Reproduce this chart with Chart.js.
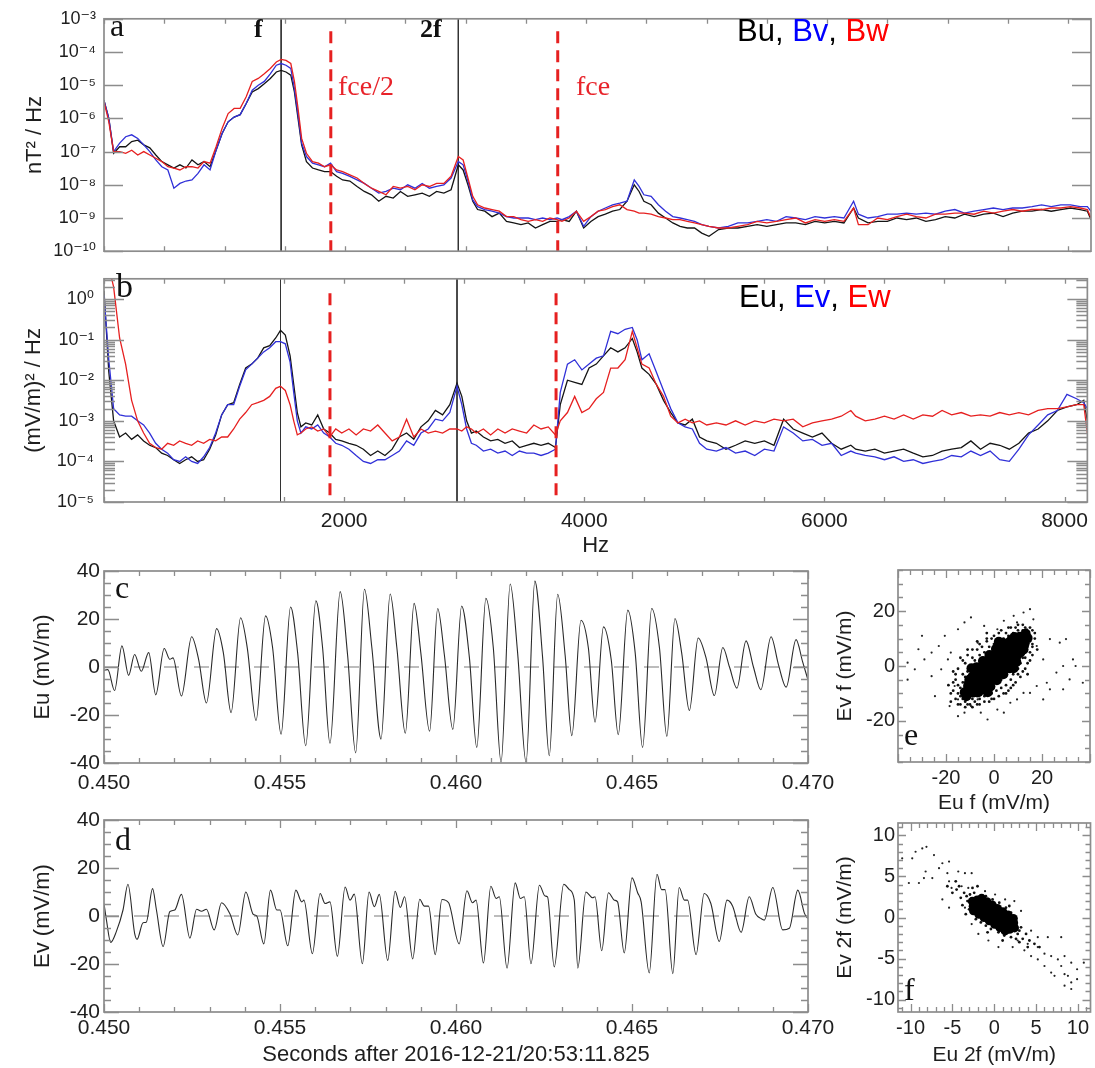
<!DOCTYPE html>
<html lang="en">
<head>
<meta charset="UTF-8">
<title>Spectra, waveforms and hodograms</title>
<script src="https://cdn.jsdelivr.net/npm/chart.js"></script>
<style>
  body { margin: 0; background: #fff; }
  #page { position: relative; width: 1095px; height: 1068px; overflow: hidden; }
  #page canvas { position: absolute; }
</style>
</head>
<body>
<div id="page">
  <canvas id="panelA" width="1095" height="270" style="left:0;top:0"></canvas>
  <canvas id="panelB" width="1095" height="302" style="left:0;top:258px"></canvas>
  <canvas id="panelC" width="845" height="248" style="left:0;top:552px"></canvas>
  <canvas id="panelD" width="845" height="268" style="left:0;top:800px"></canvas>
  <canvas id="panelE" width="265" height="266" style="left:830px;top:550px"></canvas>
  <canvas id="panelF" width="265" height="260" style="left:830px;top:808px"></canvas>
</div>
<script>
// ---------- spectra (panels a, b) ----------
const freqHz = [
  0, 40, 80, 130, 180, 230, 280, 330, 380, 430,
  480, 530, 580, 630, 680, 730, 780, 830, 880, 930,
  980, 1030, 1080, 1130, 1180, 1230, 1280, 1330, 1380, 1430,
  1470, 1510, 1550, 1580, 1610, 1640, 1680, 1730, 1780, 1830,
  1880, 1930, 1980, 2040, 2100, 2160, 2220, 2280, 2340, 2400,
  2460, 2520, 2580, 2640, 2700, 2760, 2820, 2880, 2940, 2980,
  3020, 3060, 3100, 3160, 3220, 3280, 3340, 3400, 3460, 3520,
  3580, 3640, 3700, 3760, 3800, 3860, 3920, 3980, 4040, 4100,
  4160, 4220, 4280, 4340, 4400, 4440, 4480, 4540, 4600, 4660,
  4720, 4780, 4840, 4900, 4960, 5020, 5100, 5180, 5260, 5340,
  5420, 5500, 5580, 5660, 5740, 5820, 5900, 5980, 6060, 6140,
  6220, 6260, 6340, 6420, 6500, 6580, 6660, 6740, 6820, 6900,
  6980, 7060, 7140, 7220, 7300, 7380, 7460, 7540, 7620, 7700,
  7780, 7860, 7940, 8020, 8100, 8160, 8190
];

// magnetic PSD, nT^2/Hz
const bu = [
  3.5e-6, 1e-6, 8.9e-8, 1.4e-7, 1.4e-7, 2.0e-7, 2.2e-7, 1.6e-7, 1.3e-7, 7.9e-8,
  5.0e-8, 4.0e-8, 3.2e-8, 4.0e-8, 3.2e-8, 5.6e-8, 4.0e-8, 5.0e-8, 3.5e-8, 1.1e-7,
  3.5e-7, 7.9e-7, 1.1e-6, 1.3e-6, 2.8e-6, 6.3e-6, 7.9e-6, 1.1e-5, 1.6e-5, 2.5e-5,
  2.8e-5, 2.5e-5, 2.0e-5, 6.3e-6, 1e-6, 1.6e-7, 5.0e-8, 3.2e-8, 2.8e-8, 2.5e-8,
  2.5e-8, 1.8e-8, 1.4e-8, 1.3e-8, 8.9e-9, 6.3e-9, 5.0e-9, 3.2e-9, 4.5e-9, 4.0e-9,
  6.3e-9, 4.5e-9, 5.0e-9, 5.6e-9, 4.5e-9, 6.3e-9, 5.6e-9, 7.1e-9, 4.0e-8, 2.8e-8,
  1e-8, 3.2e-9, 1.8e-9, 1.6e-9, 1.1e-9, 1.4e-9, 7.9e-10, 7.1e-10, 6.3e-10, 7.1e-10,
  5.0e-10, 6.3e-10, 7.9e-10, 7.9e-10, 8.9e-10, 7.9e-10, 1.6e-9, 5.0e-10, 7.9e-10, 1.1e-9,
  1.3e-9, 1.6e-9, 1.8e-9, 3.2e-9, 1e-8, 6.3e-9, 3.2e-9, 2.5e-9, 1.4e-9, 1e-9,
  7.1e-10, 5.6e-10, 5.0e-10, 5.0e-10, 3.5e-10, 2.8e-10, 4.5e-10, 5.0e-10, 5.0e-10, 5.6e-10,
  6.3e-10, 5.6e-10, 6.3e-10, 7.1e-10, 7.1e-10, 6.3e-10, 7.9e-10, 7.1e-10, 7.9e-10, 7.1e-10,
  2.0e-9, 1e-9, 7.1e-10, 7.9e-10, 7.9e-10, 1e-9, 8.9e-10, 1e-9, 7.9e-10, 8.9e-10,
  1.1e-9, 1e-9, 1.3e-9, 1.1e-9, 1.3e-9, 1.4e-9, 1.1e-9, 1.4e-9, 1.6e-9, 1.6e-9,
  1.8e-9, 1.6e-9, 1.8e-9, 2.0e-9, 1.8e-9, 1.6e-9, 8.9e-10
];
const bv = [
  3.5e-6, 1e-6, 1e-7, 1.8e-7, 2.8e-7, 3.2e-7, 2.5e-7, 1.6e-7, 1e-7, 5.6e-8,
  3.5e-8, 2.8e-8, 7.9e-9, 1.1e-8, 1.3e-8, 1.4e-8, 2.2e-8, 4.0e-8, 2.8e-8, 1.1e-7,
  3.5e-7, 7.9e-7, 1.1e-6, 1.3e-6, 2.8e-6, 7.1e-6, 1e-5, 1.3e-5, 2.2e-5, 4.0e-5,
  4.5e-5, 4.0e-5, 3.2e-5, 7.9e-6, 1.3e-6, 1.8e-7, 7.1e-8, 4.5e-8, 4.0e-8, 3.5e-8,
  4.5e-8, 2.5e-8, 2.2e-8, 1.8e-8, 1.4e-8, 1.1e-8, 7.9e-9, 5.6e-9, 6.3e-9, 7.9e-9,
  7.1e-9, 1e-8, 7.9e-9, 1.1e-8, 7.9e-9, 8.9e-9, 1e-8, 1.6e-8, 5.0e-8, 4.0e-8,
  1.3e-8, 3.5e-9, 2.2e-9, 1.8e-9, 1.6e-9, 1.4e-9, 1.1e-9, 1e-9, 1e-9, 1e-9,
  8.9e-10, 1e-9, 8.9e-10, 1e-9, 8.9e-10, 1.1e-9, 1.6e-9, 5.6e-10, 1.1e-9, 1.6e-9,
  2.0e-9, 2.5e-9, 2.8e-9, 3.2e-9, 1.4e-8, 8.9e-9, 5.0e-9, 4.5e-9, 2.5e-9, 1.6e-9,
  1.1e-9, 1e-9, 8.9e-10, 7.9e-10, 6.3e-10, 5.6e-10, 5.0e-10, 5.6e-10, 7.1e-10, 7.1e-10,
  7.9e-10, 8.9e-10, 7.9e-10, 1.1e-9, 1e-9, 8.9e-10, 1.1e-9, 1e-9, 1.1e-9, 1e-9,
  3.2e-9, 1.3e-9, 1e-9, 1.1e-9, 1.3e-9, 1.3e-9, 1.4e-9, 1.3e-9, 1.4e-9, 1.3e-9,
  1.6e-9, 1.8e-9, 1.4e-9, 1.6e-9, 1.8e-9, 2.0e-9, 1.8e-9, 2.0e-9, 2.0e-9, 2.2e-9,
  2.5e-9, 2.2e-9, 2.5e-9, 2.5e-9, 2.2e-9, 2.2e-9, 1.6e-9
];
const bw = [
  3.2e-6, 7.9e-7, 1e-7, 1e-7, 8.9e-8, 1.1e-7, 7.9e-8, 1e-7, 7.9e-8, 6.3e-8,
  5.0e-8, 3.5e-8, 3.2e-8, 2.8e-8, 3.5e-8, 3.5e-8, 3.2e-8, 5.0e-8, 4.5e-8, 1.4e-7,
  5.0e-7, 1.4e-6, 2.0e-6, 2.0e-6, 4.5e-6, 1.3e-5, 1.6e-5, 2.2e-5, 3.2e-5, 5.0e-5,
  6.0e-5, 5.6e-5, 4.5e-5, 1.3e-5, 2.0e-6, 2.5e-7, 8.9e-8, 5.0e-8, 4.5e-8, 3.5e-8,
  4.0e-8, 2.8e-8, 2.5e-8, 2.0e-8, 1.6e-8, 1.1e-8, 7.9e-9, 6.3e-9, 5.0e-9, 8.9e-9,
  7.9e-9, 8.9e-9, 7.1e-9, 1e-8, 8.9e-9, 1.1e-8, 1.1e-8, 1.8e-8, 7.1e-8, 5.6e-8,
  1.6e-8, 4.5e-9, 2.5e-9, 2.0e-9, 1.8e-9, 1.6e-9, 1.1e-9, 1.1e-9, 8.9e-10, 7.9e-10,
  8.9e-10, 7.9e-10, 1e-9, 8.9e-10, 7.9e-10, 1e-9, 1.6e-9, 7.9e-10, 1.1e-9, 1.6e-9,
  1.8e-9, 2.2e-9, 2.5e-9, 1.8e-9, 1.6e-9, 1.4e-9, 1.4e-9, 1.3e-9, 1.1e-9, 1e-9,
  8.9e-10, 8.9e-10, 7.9e-10, 7.1e-10, 6.3e-10, 5.6e-10, 5.0e-10, 5.0e-10, 5.6e-10, 6.3e-10,
  7.9e-10, 7.1e-10, 7.9e-10, 8.9e-10, 1e-9, 7.1e-10, 8.9e-10, 7.9e-10, 8.9e-10, 7.9e-10,
  2.0e-9, 6.3e-10, 6.3e-10, 1e-9, 8.9e-10, 1.1e-9, 1.3e-9, 1.1e-9, 1e-9, 1.3e-9,
  1.3e-9, 1.4e-9, 1.4e-9, 1.3e-9, 1.6e-9, 1.4e-9, 1.6e-9, 1.8e-9, 1.6e-9, 1.8e-9,
  1.8e-9, 2.0e-9, 2.0e-9, 2.2e-9, 2.0e-9, 1.8e-9, 1e-9
];

// electric PSD, (mV/m)^2/Hz
const eu = [
  1.6, 1.6e-2, 1e-3, 4.0e-4, 5.0e-4, 3.5e-4, 4.5e-4, 3.2e-4, 2.5e-4, 2.2e-4,
  1.6e-4, 1.4e-4, 1.1e-4, 8.9e-5, 1.1e-4, 1.3e-4, 1e-4, 1.1e-4, 2.0e-4, 4.5e-4,
  1.4e-3, 2.5e-3, 2.8e-3, 7.9e-3, 2.0e-2, 2.5e-2, 3.5e-2, 6.3e-2, 7.1e-2, 0.11,
  0.17, 0.13, 4.0e-2, 7.9e-3, 1.6e-3, 7.1e-4, 8.9e-4, 7.9e-4, 1.4e-3, 6.3e-4,
  5.0e-4, 3.5e-4, 3.2e-4, 2.8e-4, 2.5e-4, 2.0e-4, 1.4e-4, 1.8e-4, 1.4e-4, 2.0e-4,
  4.0e-4, 5.0e-4, 3.5e-4, 7.1e-4, 1e-3, 1.8e-3, 1.4e-3, 2.5e-3, 8.5e-3, 4.0e-3,
  1e-3, 5.0e-4, 5.6e-4, 4.0e-4, 3.2e-4, 3.5e-4, 2.8e-4, 3.2e-4, 2.2e-4, 2.5e-4,
  2.8e-4, 2.5e-4, 2.8e-4, 2.2e-4, 2.5e-3, 1e-2, 8.9e-3, 7.9e-3, 2.0e-2, 2.5e-2,
  4.0e-2, 6.3e-2, 5.0e-2, 6.3e-2, 0.107, 5.0e-2, 2.0e-2, 1.4e-2, 7.9e-3, 3.2e-3,
  1.6e-3, 8.9e-4, 7.9e-4, 1.1e-3, 4.0e-4, 3.2e-4, 2.8e-4, 2.0e-4, 2.5e-4, 3.2e-4,
  2.8e-4, 3.2e-4, 2.5e-4, 1.1e-3, 6.3e-4, 5.0e-4, 4.0e-4, 5.0e-4, 2.8e-4, 2.0e-4,
  2.5e-4, 2.0e-4, 1.8e-4, 2.0e-4, 1.6e-4, 1.8e-4, 2.0e-4, 1.6e-4, 1.3e-4, 1.4e-4,
  1.8e-4, 2.0e-4, 2.2e-4, 3.2e-4, 2.0e-4, 2.8e-4, 2.5e-4, 2.0e-4, 2.8e-4, 5.0e-4,
  6.3e-4, 1e-3, 1.8e-3, 2.2e-3, 2.5e-3, 3.2e-3, 1e-3
];
const ev = [
  1.26, 3.2e-2, 2.0e-3, 1.4e-3, 1.3e-3, 1.3e-3, 1e-3, 7.9e-4, 5.0e-4, 2.8e-4,
  2.0e-4, 1.6e-4, 1.1e-4, 1e-4, 1.3e-4, 1e-4, 8.9e-5, 1.3e-4, 2.2e-4, 5.0e-4,
  1.4e-3, 2.5e-3, 2.5e-3, 7.1e-3, 1.8e-2, 2.5e-2, 3.5e-2, 5.0e-2, 6.3e-2, 8.9e-2,
  8.9e-2, 7.9e-2, 2.8e-2, 5.0e-3, 1e-3, 5.0e-4, 7.1e-4, 6.3e-4, 7.9e-4, 5.0e-4,
  4.0e-4, 2.8e-4, 2.5e-4, 2.0e-4, 1.4e-4, 1e-4, 8.9e-5, 1.1e-4, 1.1e-4, 1.4e-4,
  1.8e-4, 3.2e-4, 2.5e-4, 5.0e-4, 6.3e-4, 1.1e-3, 1e-3, 1.6e-3, 7.1e-3, 2.5e-3,
  6.3e-4, 2.8e-4, 2.5e-4, 1.8e-4, 2.0e-4, 1.6e-4, 1.8e-4, 1.4e-4, 1.8e-4, 1.6e-4,
  1.6e-4, 1.4e-4, 1.6e-4, 2.0e-4, 5.0e-3, 2.5e-2, 3.2e-2, 1.8e-2, 2.5e-2, 3.5e-2,
  4.0e-2, 0.16, 0.14, 0.18, 0.2, 0.1, 3.2e-2, 4.5e-2, 1.6e-2, 5.6e-3,
  2.0e-3, 8.9e-4, 7.1e-4, 6.3e-4, 2.8e-4, 2.0e-4, 1.8e-4, 2.2e-4, 1.6e-4, 1.8e-4,
  1.4e-4, 2.0e-4, 1.8e-4, 7.1e-4, 5.0e-4, 3.2e-4, 3.5e-4, 2.5e-4, 2.8e-4, 1.4e-4,
  1.8e-4, 1.6e-4, 1.4e-4, 1.3e-4, 1.1e-4, 1.3e-4, 1e-4, 1.1e-4, 8.9e-5, 1e-4,
  1.1e-4, 1.4e-4, 1.3e-4, 1.8e-4, 1.4e-4, 1.8e-4, 1.1e-4, 1e-4, 2.0e-4, 4.5e-4,
  7.9e-4, 1.4e-3, 1.8e-3, 4.5e-3, 3.5e-3, 2.8e-3, 2.0e-3
];
const ew = [
  10, 6.3, 2.0, 0.11, 2.5e-2, 3.2e-3, 1e-3, 5.0e-4, 2.8e-4, 2.2e-4,
  2.0e-4, 2.8e-4, 2.5e-4, 3.2e-4, 2.8e-4, 2.5e-4, 3.2e-4, 2.8e-4, 3.5e-4, 3.2e-4,
  4.0e-4, 4.0e-4, 6.3e-4, 1.1e-3, 1.6e-3, 2.5e-3, 2.8e-3, 3.2e-3, 4.0e-3, 6.3e-3,
  7.1e-3, 5.6e-3, 2.5e-3, 1e-3, 4.5e-4, 5.0e-4, 6.3e-4, 7.1e-4, 5.6e-4, 6.3e-4,
  4.0e-4, 6.3e-4, 5.0e-4, 6.3e-4, 4.5e-4, 6.3e-4, 5.6e-4, 7.9e-4, 5.0e-4, 3.2e-4,
  4.0e-4, 1.1e-3, 4.0e-4, 6.3e-4, 5.0e-4, 5.6e-4, 5.0e-4, 6.3e-4, 6.3e-4, 5.6e-4,
  7.1e-4, 6.3e-4, 5.0e-4, 6.3e-4, 4.5e-4, 6.3e-4, 5.0e-4, 6.3e-4, 5.6e-4, 5.0e-4,
  7.9e-4, 6.3e-4, 7.1e-4, 4.5e-4, 1e-3, 1.6e-3, 4.0e-3, 1.6e-3, 2.0e-3, 3.5e-3,
  5.0e-3, 2.0e-2, 2.0e-2, 3.2e-2, 0.16, 6.3e-2, 2.5e-2, 2.0e-2, 7.9e-3, 4.0e-3,
  1.3e-3, 8.9e-4, 1.1e-3, 8.9e-4, 1e-3, 7.9e-4, 8.9e-4, 7.9e-4, 1e-3, 7.9e-4,
  1e-3, 8.9e-4, 1.1e-3, 1e-3, 1.1e-3, 7.1e-4, 8.9e-4, 1e-3, 1.1e-3, 1.3e-3,
  1.8e-3, 1.3e-3, 1e-3, 1.1e-3, 1.3e-3, 1.1e-3, 1.4e-3, 1.1e-3, 1.4e-3, 1.3e-3,
  1.8e-3, 1.4e-3, 1.6e-3, 1.3e-3, 1.4e-3, 1.3e-3, 1.6e-3, 1.4e-3, 1.6e-3, 1.4e-3,
  1.8e-3, 2.0e-3, 2.0e-3, 2.2e-3, 2.5e-3, 2.5e-3, 5.0e-4
];

// wave and cyclotron frequencies (Hz)
const fWave = 1470, f2Wave = 2940, fceHalf = 1882, fce = 3765;
const specTickHz = [2000, 4000, 6000, 8000];
const decadesA = [-10, -9, -8, -7, -6, -5, -4, -3];
const decadesB = [-5, -4, -3, -2, -1, 0];

// ---------- waveforms (panels c, d): [seconds, mV/m] ----------
const euWave = [
  [0.45000,-1.4],[0.45011,-1.1],[0.45030,-9.8],[0.45051,8.8],[0.45070,-3.5],[0.45087,5.2],
  [0.45106,-1.8],[0.45127,6.0],[0.45147,-11.6],[0.45171,7.7],[0.45187,3.2],[0.45196,3.8],
  [0.45220,-12.1],[0.45249,12.6],[0.45269,3],[0.45291,-15],[0.45320,16],[0.45339,6],
  [0.45361,-19],[0.45388,20.5],[0.45407,8],[0.45432,-22.3],[0.45459,21.3],[0.45479,8],
  [0.45503,-28],[0.45530,25],[0.45550,6],[0.45573,-32.8],[0.45602,27.6],[0.45621,8],
  [0.45642,-31.8],[0.45671,31.4],[0.45692,5],[0.45715,-35.8],[0.45740,32.4],[0.45761,8],
  [0.45787,-30],[0.45813,30.4],[0.45832,8],[0.45856,-27.6],[0.45881,26.5],[0.45900,6],
  [0.45925,-26.8],[0.45948,24.4],[0.45967,5],[0.45991,-26],[0.46016,25.4],[0.46038,4],
  [0.46059,-33.5],[0.46085,28.6],[0.46106,8],[0.46128,-39.7],[0.46154,34.6],[0.46175,6],
  [0.46199,-39.7],[0.46224,35.8],[0.46246,4],[0.46265,-37],[0.46289,30.3],[0.46310,5],
  [0.46329,-28.6],[0.46355,19.5],[0.46376,8],[0.46395,-23],[0.46419,16.7],[0.46441,3],
  [0.46461,-28.2],[0.46488,23.7],[0.46509,6],[0.46530,-33.5],[0.46556,24.4],[0.46578,8],
  [0.46599,-28.9],[0.46622,20.2],[0.46641,6],[0.46663,-18.1],[0.46688,12.1],[0.46710,4],
  [0.46734,-11.9],[0.46758,8.1],[0.46777,0],[0.46798,-8.8],[0.46824,10.9],[0.46845,0],
  [0.46866,-9.5],[0.46895,12.6],[0.46916,1],[0.46938,-8.4],[0.46966,11.4],[0.46985,2],
  [0.46999,-4.9]
];
const evWave = [
  [0.45000,5.2],[0.45007,-1.7],[0.45019,-11],[0.45035,-6.5],[0.45054,2.5],[0.45068,13.2],
  [0.45087,-7.2],[0.45094,-9.7],[0.45111,-2.8],[0.45120,-2.6],[0.45138,11.4],[0.45149,2.5],
  [0.45168,-12.7],[0.45187,1.8],[0.45201,2.5],[0.45220,9],[0.45244,-9.2],[0.45263,2.8],
  [0.45277,2],[0.45291,2.8],[0.45313,-5.8],[0.45334,5.5],[0.45358,0.8],[0.45380,-7.9],
  [0.45403,10],[0.45424,0.7],[0.45434,0],[0.45454,-11.6],[0.45473,10.8],[0.45491,2.5],
  [0.45500,2.5],[0.45522,-12.4],[0.45545,10.8],[0.45562,5.9],[0.45568,6.6],[0.45592,-15.7],
  [0.45614,9.4],[0.45628,5.2],[0.45642,5.9],[0.45663,-16.8],[0.45685,12.1],[0.45699,6.6],
  [0.45711,9.1],[0.45734,-19.9],[0.45753,10],[0.45768,3.9],[0.45782,9],[0.45806,-18.5],
  [0.45827,10.3],[0.45842,3.6],[0.45854,8],[0.45877,-17.9],[0.45897,7],[0.45910,4.1],
  [0.45922,4.1],[0.45941,-16.1],[0.45960,6.9],[0.45979,5.5],[0.46009,-11.6],[0.46031,10.5],
  [0.46047,5.5],[0.46057,6.6],[0.46078,-19.6],[0.46099,12.4],[0.46114,7.3],[0.46123,8],
  [0.46145,-21.7],[0.46168,13.8],[0.46183,7.3],[0.46194,8],[0.46213,-19.9],[0.46237,12.8],
  [0.46253,8.3],[0.46260,8],[0.46279,-21.2],[0.46306,13.2],[0.46322,11],[0.46336,6.6],
  [0.46346,-21.7],[0.46369,10],[0.46388,7.6],[0.46395,8],[0.46414,-14.5],[0.46433,9.7],
  [0.46450,6.6],[0.46459,5.9],[0.46478,-15.4],[0.46500,15.9],[0.46516,9.7],[0.46526,5.9],
  [0.46549,-23.7],[0.46571,17.4],[0.46584,11],[0.46594,11],[0.46616,-24],[0.46634,11.9],
  [0.46649,6.6],[0.46658,6.6],[0.46682,-16.1],[0.46705,9.4],[0.46724,5.2],[0.46748,-10.6],
  [0.46770,6.6],[0.46786,4.1],[0.46810,-6.8],[0.46833,8],[0.46852,0.7],[0.46866,-1],
  [0.46876,-1.7],[0.46900,11.9],[0.46928,-5.8],[0.46947,-5.1],[0.46971,10.8],[0.46990,1.1],
  [0.46999,-1]
];
const timeTicks = [0.450, 0.455, 0.460, 0.465, 0.470];

// ---------- hodograms (panels e, f): [Eu, Ev] mV/m ----------
const eCore = [
  [-8.8,-9.7],[-10.8,-7.3],[-5.2,-8.5],[-7.1,-6.2],[-9.0,-3.9],[-1.5,-7.5],[-3.4,-5.2],
  [-5.4,-2.8],[-7.3,-0.5],[1.2,-5.2],[-0.7,-2.9],[-2.7,-0.5],[-4.6,1.8],[3.9,-3.0],
  [2.0,-0.7],[0,1.7],[-1.9,4.0],[6.6,-0.8],[4.7,1.5],[2.7,3.9],[0.8,6.2],[9.3,1.5],
  [7.4,3.8],[5.4,6.2],[3.5,8.5],[11.0,4.9],[9.1,7.2],[7.2,9.5],[12.8,8.3],[10.8,10.7],
  [-6.5,-9.6],[-8.4,-7.3],[-10.3,-5.0],[-3.8,-7.4],[-5.7,-5.1],[-7.6,-2.8],[-1.1,-5.2],
  [-3.0,-2.9],[-4.9,-0.6],[1.6,-2.9],[-0.3,-0.6],[-2.2,1.7],[4.2,-0.7],[2.3,1.6],[0.4,3.9],
  [6.9,1.6],[5.0,3.9],[3.1,6.2],[9.6,3.8],[7.7,6.1],[5.8,8.4],[12.3,6.0],[10.4,8.3],[8.5,10.6],
  [1,0.5],[3.7,2.7],[6.4,5.0],[-1.7,-1.7],[-4.4,-4.0],[-12.2,-9.6],[-11.5,-11.0],[14.0,10.2],
  [13.2,11.8],[-2.6,-9.6],[8.2,-0.8],[-9.4,-0.8],[2.0,8.8]
];
const eHalo = [
  [-16,-12],[-14,-14],[-13,-10],[-12,-13],[-11,-11],[-10,-14],[-9,-12],[-8,-13],[-7,-11],
  [-6,-12],[-4,-11],[-3,-10],[-1,-10],[1,-9],[3,-8],[5,-7],[7,-5],[8,-3],[10,-1],[11,1],
  [12,3],[13,5],[14,7],[15,9],[14,11],[12,13],[10,13],[8,12],[6,11],[4,10],[2,9],[0,8],
  [-2,7],[-4,5],[-6,4],[-8,2],[-10,0],[-11,-2],[-12,-4],[-13,-6],[-14,-8],[-15,-10],
  [-9,-3],[-10,-7],[-5,-9],[3,-5],[6,-2],[9,1],[11,4],[12,9],[9,11],[5,12],[-1,10],[-5,7],
  [-9,3],[-12,1],[-16,-5],[-17,-9],[16,4],[17,10],[18,6],[-7,9],[0,-12],[6,-9],[14,-3],
  [-14,3],[-3,12],[10,15],[-18,-13],[16,13],[-15,-7],[-13,-3],[-11,-8],[-7,-14],[-2,-13],
  [4,-10],[8,-7],[12,-2],[15,2],[16,7],[13,14],[7,14],[2,12],[-3,9],[-7,6],[-11,4],[-17,-2],
  [-13,-12],[-11,-14],[-9,-15],[-6,-14],[-4,-13],[-1,-12],[2,-11],[5,-10],[7,-8],[9,-6],
  [11,-4],[13,-1],[14,1],[15,5],[16,8],[17,12],[15,14],[12,15],[9,14],[6,14],[3,13],[0,11],
  [-3,10],[-6,8],[-9,6],[-11,6],[-13,2],[-15,-1],[-16,-3],[-17,-6],[-18,-10],[-15,-14],
  [-12,-15],[-19,-7],[10,-3],[13,3],[-12,-6],[-14,-11]
];
const eOut = [
  [-30,11],[-29,2.4],[-36,1.2],[-36,-5],[-26,-3.7],[-23,7.3],[-20.5,11],[-18,4.9],[-15,13.4],
  [-12.3,15.9],[-9.6,17.7],[-18.5,-14.6],[-15,-18.3],[-12.3,-17],[-9.6,-14.6],[-5.5,-17],
  [4.1,-17],[9.6,-12.2],[15,-9.8],[17.8,-7.3],[22,-6.1],[26,-2.4],[28.8,0],[31.5,-4.9],
  [32.9,2.4],[37,-6.1],[27.4,8.5],[23.3,9.8],[16.4,17],[15,20.7],[12.3,19.5],[9.6,15.9],
  [4.1,16.5],[1.4,13.4],[-4.1,14.6],[-6.8,8.5],[20.5,2.4],[17.8,7.3],[12.3,-9.8],[6.8,-13.4],
  [-12.3,-9.8],[-15,-12.2],[-22,-1.2],[-31.5,6.1],[-33,-1.2],[-24.6,-11],[-2.7,-19.5],
  [1.4,-15.9],[20.5,-12.2],[23.3,-8.5],[28.8,-8.5],[30,9.8],[34,0],[13.7,13.4],[8.2,18.3],
  [-6.8,-12.2],[-9.6,-7.3],[-16.4,-7.3],[-19.2,2.4],[-26,4.9]
];
const fCore = [
  [-2.62,1.97],[-2.48,0.81],[-1.99,1.57],[-1.50,2.33],[-1.85,0.40],[-1.36,1.16],[-0.87,1.92],
  [-1.22,0.0],[-0.73,0.76],[-0.24,1.52],[-0.59,-0.41],[-0.1,0.35],[0.39,1.11],[0.04,-0.82],
  [0.53,-0.06],[1.02,0.70],[0.67,-1.22],[1.16,-0.46],[1.65,0.30],[1.30,-1.63],[1.79,-0.87],
  [2.28,-0.11],[2.42,-1.27],[-2.52,1.37],[-2.04,2.13],[-1.94,1.0],[-1.46,1.76],[-1.26,0.56],
  [-0.78,1.32],[-0.68,0.19],[-0.20,0.95],[0.0,-0.25],[0.48,0.51],[0.58,-0.62],[1.06,0.14],
  [1.26,-1.06],[1.74,-0.30],[1.84,-1.43],[2.32,-0.67]
];
const fHalo = [
  [-4.5,3.4],[-4,2.4],[-3.6,3.0],[-3.2,2.0],[-3.8,1.5],[-2.9,2.8],[-2.4,3.0],[-4.2,3.8],
  [-3.0,1.0],[-2.2,-0.2],[-1.6,-0.6],[-1.0,-1.0],[-0.4,-1.4],[0.5,-1.8],[1.2,-2.2],[2.0,-2.4],
  [2.8,-2.0],[3.4,-2.6],[3.8,-2.0],[3.2,-1.2],[2.6,-0.4],[2.0,0.6],[1.4,1.2],[0.6,1.8],
  [-0.2,2.2],[-1.0,2.6],[-1.8,2.4],[-2.6,3.6],[4.2,-2.8],[4.8,-3.2],[4.0,-3.6],[-5.0,3.0],
  [-4.6,4.4],[-2.0,3.8],[1.0,-2.8],[3.0,-3.0],[-1.4,1.8],[0.2,-1.2],[2.4,-1.4],[-3.4,0.4],
  [5.4,-3.6],[-5.6,3.8],[-3.3,2.6],[-2.8,1.6],[3.0,-1.6],[2.6,-2.6],[-0.8,-1.8],[1.8,1.4]
];
const fOut = [
  [-8.6,8.4],[-8.1,8.6],[-9.4,8.0],[-9.8,7.2],[-7.2,7.6],[-6.2,6.6],[-5.4,6.8],[-8.2,5.6],
  [-8.4,4.8],[-7.4,4.8],[-9.0,4.2],[-6.6,6.0],[-5.4,4.4],[-5.6,5.4],[-4.3,5.6],[-3.5,5.4],
  [-2.7,5.4],[-5.1,3.6],[-3.9,3.8],[-3.1,3.6],[-6.2,2.2],[-5.4,1.2],[-1.1,3.2],[0.1,2.8],
  [1.3,2.2],[2.4,2.0],[3.2,0.8],[4.4,-1.6],[5.2,-2.4],[6.4,-2.4],[8.0,-2.4],[5.2,-3.6],
  [6.0,-4.4],[6.8,-4.7],[7.6,-5.1],[8.4,-4.7],[9.2,-5.5],[9.9,-6.3],[10.7,-5.5],[8.0,-5.9],
  [8.8,-7.1],[9.9,-7.5],[9.2,-7.9],[8.4,-6.9],[6.8,-6.7],[7.2,-7.1],[6.0,-5.9],[5.2,-5.1],
  [4.4,-4.7],[4.0,-3.2],[2.8,-2.8],[3.6,-4.0],[2.2,-3.6],[0.5,-3.6],[-0.7,-2.8],[-1.9,-2.0],
  [-2.7,-0.8],[-3.5,1.2],[9.2,-8.7],[8.4,-8.3],[-11,7.2],[-10.2,4.2]
];

// ---------- drawing ----------
const SANS = '"Liberation Sans", "DejaVu Sans", Arial, sans-serif';
const SERIF = '"Liberation Serif", "DejaVu Serif", serif';
const BLACK = '#141414', BLUE = '#3030d8', RED = '#e62020', FRAME = '#8c8c8c';

Chart.defaults.font.family = SANS;
Chart.defaults.color = '#1e1e1e';
Chart.defaults.animation = false;
Chart.defaults.events = [];
Chart.defaults.plugins.legend.display = false;
Chart.defaults.plugins.tooltip.enabled = false;

const SUP = {'-': '\u207B', '0': '\u2070', '1': '\u00B9', '2': '\u00B2', '3': '\u00B3', '4': '\u2074',
             '5': '\u2075', '6': '\u2076', '7': '\u2077', '8': '\u2078', '9': '\u2079'};
const pow10 = n => '10' + String(n).split('').map(c => SUP[c]).join('');
const isDecade = v => Math.abs(Math.log10(v) - Math.round(Math.log10(v))) < 1e-6;
const NO_GRID = { display: false, drawTicks: false };

// evenly spaced tick positions between lo and hi
function tickRange(lo, hi, step) {
  const out = [];
  for (let i = Math.ceil(lo / step - 1e-9); i * step <= hi + 1e-9; i++) out.push(+(i * step).toFixed(6));
  return out;
}
const setTicks = list => s => { s.ticks = list.map(v => ({ value: v })); };

// box with inward ticks on all four sides, like the IDL plots
function framePlugin(cfg) {
  return {
    id: 'frame',
    afterDatasetsDraw(chart) {
      const { ctx, chartArea: a, scales: { x, y } } = chart;
      ctx.save();
      ctx.strokeStyle = FRAME;
      ctx.lineWidth = 1.3;
      ctx.beginPath();
      x.ticks.forEach(t => {
        const px = Math.round(x.getPixelForValue(t.value)) + 0.5;
        const len = cfg.xMajor(t.value) ? cfg.xLen[0] : cfg.xLen[1];
        ctx.moveTo(px, a.bottom); ctx.lineTo(px, a.bottom - len);
        ctx.moveTo(px, a.top); ctx.lineTo(px, a.top + len);
      });
      y.ticks.forEach(t => {
        const py = Math.round(y.getPixelForValue(t.value)) + 0.5;
        const len = cfg.yMajor(t.value) ? cfg.yLen[0] : cfg.yLen[1];
        ctx.moveTo(a.left, py); ctx.lineTo(a.left + len, py);
        ctx.moveTo(a.right, py); ctx.lineTo(a.right - len, py);
      });
      ctx.stroke();
      ctx.lineWidth = 1.7;
      ctx.strokeRect(a.left, a.top, a.right - a.left, a.bottom - a.top);
      ctx.restore();
    }
  };
}

// free text (panel letters, line names), x/y are canvas pixels of the baseline start
function notesPlugin(items) {
  return {
    id: 'notes',
    afterDraw(chart) {
      const ctx = chart.ctx;
      ctx.save();
      ctx.textBaseline = 'alphabetic';
      ctx.textAlign = 'left';
      items.forEach(it => {
        ctx.font = it.font;
        let x = it.x;
        it.parts.forEach(([txt, col]) => {
          ctx.fillStyle = col;
          ctx.fillText(txt, x, it.y);
          x += ctx.measureText(txt).width;
        });
      });
      ctx.restore();
    }
  };
}

function fixW(w) { return s => { s.width = w; }; }
function fixH(h) { return s => { s.height = h; }; }

function specLine(vals, color, order) {
  return { data: freqHz.map((f, i) => ({ x: f, y: vals[i] })), borderColor: color,
           borderWidth: 1.3, pointRadius: 0, tension: 0, order: order };
}
function marker(f, top, bottom, color, width, dash, order) {
  return { data: [{ x: f, y: top }, { x: f, y: bottom }], borderColor: color,
           borderWidth: width, borderDash: dash, pointRadius: 0, order: order };
}

const specXTicks = tickRange(0, 8000, 500);
function specX(showLabels, h, title) {
  return {
    type: 'linear', min: 0, max: 8190, afterFit: fixH(h), afterBuildTicks: setTicks(specXTicks),
    grid: NO_GRID, border: { display: false },
    ticks: { autoSkip: false, maxRotation: 0, display: showLabels, padding: 7, font: { size: 21 },
             callback: v => specTickHz.includes(v) ? String(v) : '' },
    title: { display: !!title, text: title || '', font: { size: 22 }, padding: { top: 0, bottom: 1 } }
  };
}

const titleA = 'nT\u00B2 / Hz';
const titleB = '(mV/m)\u00B2 / Hz';

// panel a
new Chart(document.getElementById('panelA'), {
  type: 'line',
  data: { datasets: [
    marker(fceHalf, 4.2e-4, 1e-10, RED, 3, [12, 7], 0),
    marker(fce, 4.2e-4, 1e-10, RED, 3, [12, 7], 0),
    specLine(bw, RED, 1),
    specLine(bv, BLUE, 2),
    specLine(bu, BLACK, 3),
    marker(fWave, 1e-3, 1e-10, '#333', 1, [], 4),
    marker(f2Wave, 1e-3, 1e-10, '#333', 1, [], 4)
  ] },
  options: {
    responsive: false,
    layout: { padding: { top: 15, right: 4, left: 0, bottom: 0 } },
    scales: {
      x: specX(false, 18),
      y: {
        type: 'logarithmic', min: 1e-10, max: 1e-3, afterFit: fixW(104),
        afterBuildTicks: setTicks(decadesA.map(n => Math.pow(10, n))),
        grid: NO_GRID, border: { display: false },
        ticks: { autoSkip: false, padding: 8, font: { size: 18 },
                 callback: v => pow10(Math.round(Math.log10(v))) },
        title: { display: true, text: titleA, font: { size: 22 }, padding: { top: 22, bottom: 0 } }
      }
    }
  },
  plugins: [
    framePlugin({ xMajor: v => v % 2000 === 0, xLen: [5, 5], yMajor: () => true, yLen: [19, 19] }),
    notesPlugin([
      { x: 110, y: 36, font: '32px ' + SERIF, parts: [['a', '#111']] },
      { x: 254, y: 37, font: 'bold 26px ' + SERIF, parts: [['f', '#111']] },
      { x: 420, y: 37, font: 'bold 26px ' + SERIF, parts: [['2f', '#111']] },
      { x: 338, y: 95, font: '28px ' + SERIF, parts: [['fce/2', '#e8232a']] },
      { x: 576, y: 95, font: '28px ' + SERIF, parts: [['fce', '#e8232a']] },
      { x: 737, y: 41, font: '31px ' + SANS,
        parts: [['Bu', '#000'], [', ', '#000'], ['Bv', '#0000ff'], [', ', '#000'], ['Bw', '#ff0000']] }
    ])
  ]
});

// panel b: log minor ticks 1..9 x 10^n
const minorB = [];
decadesB.forEach(n => [1, 2, 3, 4, 5, 6, 7, 8, 9].forEach(k => {
  const v = k * Math.pow(10, n);
  if (v <= 3.16) minorB.push(v);
}));

new Chart(document.getElementById('panelB'), {
  type: 'line',
  data: { datasets: [
    marker(fceHalf, 1.4, 1e-5, RED, 3, [12, 7], 0),
    marker(fce, 1.4, 1e-5, RED, 3, [12, 7], 0),
    specLine(ew, RED, 1),
    specLine(ev, BLUE, 2),
    specLine(eu, BLACK, 3),
    marker(fWave, 3.16, 1e-5, '#333', 1, [], 4),
    marker(f2Wave, 3.16, 1e-5, '#333', 1, [], 4)
  ] },
  options: {
    responsive: false,
    layout: { padding: { top: 5, right: 4, left: 0, bottom: 0 } },
    scales: {
      x: specX(true, 58, 'Hz'),
      y: {
        type: 'logarithmic', min: 1e-5, max: 3.16, afterFit: fixW(104),
        afterBuildTicks: setTicks(minorB),
        grid: NO_GRID, border: { display: false },
        ticks: { autoSkip: false, padding: 10, font: { size: 18 },
                 callback: v => isDecade(v) ? pow10(Math.round(Math.log10(v))) : '' },
        title: { display: true, text: titleB, font: { size: 22 }, padding: { top: 21, bottom: 0 } }
      }
    }
  },
  plugins: [
    framePlugin({ xMajor: v => v % 2000 === 0, xLen: [5, 5], yMajor: isDecade, yLen: [20, 11] }),
    notesPlugin([
      { x: 116, y: 39, font: '34px ' + SERIF, parts: [['b', '#111']] },
      { x: 739, y: 49, font: '31px ' + SANS,
        parts: [['Eu', '#000'], [', ', '#000'], ['Ev', '#0000ff'], [', ', '#000'], ['Ew', '#ff0000']] }
    ])
  ]
});

// panels c, d
const isTimeLabel = v => timeTicks.some(t => Math.abs(t - v) < 1e-7);
function waveChart(id, wave, yTitle, letter, topPad, xH, xTitle, labelPad, letterY) {
  return new Chart(document.getElementById(id), {
    type: 'line',
    data: { datasets: [
      { data: wave.map(([t, v]) => ({ x: t, y: v })), borderColor: '#2a2a2a', borderWidth: 1.1,
        pointRadius: 0, cubicInterpolationMode: 'monotone', order: 0 },
      { data: [{ x: timeTicks[0], y: 0 }, { x: timeTicks[timeTicks.length - 1], y: 0 }],
        borderColor: '#7a7a7a', borderWidth: 1, borderDash: [15, 15], pointRadius: 0, order: 1 }
    ] },
    options: {
      responsive: false,
      layout: { padding: { top: topPad, right: 37, left: 0, bottom: 0 } },
      scales: {
        x: {
          type: 'linear', min: 0.45, max: 0.47, afterFit: fixH(xH),
          afterBuildTicks: setTicks(tickRange(0.45, 0.47, 0.001)),
          grid: NO_GRID, border: { display: false },
          ticks: { autoSkip: false, maxRotation: 0, padding: labelPad, font: { size: 21 },
                   callback: v => isTimeLabel(v) ? v.toFixed(3) : '' },
          title: { display: !!xTitle, text: xTitle || '', font: { size: 22 }, padding: { top: 0, bottom: 0 } }
        },
        y: {
          type: 'linear', min: -40, max: 40, afterFit: fixW(104),
          afterBuildTicks: setTicks(tickRange(-40, 40, 5)),
          grid: NO_GRID, border: { display: false },
          ticks: { autoSkip: false, padding: 4, font: { size: 21 },
                   callback: v => v % 20 === 0 ? String(v) : '' },
          title: { display: true, text: yTitle, font: { size: 22 }, padding: { top: 30, bottom: 0 } }
        }
      }
    },
    plugins: [
      framePlugin({ xMajor: isTimeLabel, xLen: [8, 5], yMajor: v => v % 20 === 0, yLen: [15, 7] }),
      notesPlugin([{ x: 115, y: letterY, font: '32px ' + SERIF, parts: [[letter, '#111']] }])
    ]
  });
}
waveChart('panelC', euWave, 'Eu (mV/m)', 'c', 19, 37, '', 8, 46);
waveChart('panelD', evWave, 'Ev (mV/m)', 'd', 20, 56, 'Seconds after 2016-12-21/20:53:11.825', 4, 50);

// panels e, f
function dots(pairs, r, color) {
  return { data: pairs.map(([x, y]) => ({ x: x, y: y })), pointRadius: r, pointBackgroundColor: color,
           pointBorderWidth: 0, pointHoverRadius: r };
}
function hodoChart(id, sets, lim, step, labelEvery, xTitle, yTitle, topPad, xH, letter, letterY) {
  const lab = v => (Math.abs(v % labelEvery) < 1e-9 && Math.abs(v) < lim.labelMax) ? String(v) : '';
  const major = v => Math.abs(v % labelEvery) < 1e-9;
  return new Chart(document.getElementById(id), {
    type: 'scatter',
    data: { datasets: sets },
    options: {
      responsive: false,
      layout: { padding: { top: topPad, right: 3, left: 0, bottom: 0 } },
      scales: {
        x: {
          type: 'linear', min: lim.x[0], max: lim.x[1], afterFit: fixH(xH),
          afterBuildTicks: setTicks(tickRange(lim.x[0], lim.x[1], step)),
          grid: NO_GRID, border: { display: false },
          ticks: { autoSkip: false, maxRotation: 0, padding: 4, font: { size: 20 }, callback: lab },
          title: { display: true, text: xTitle, font: { size: 21 }, padding: { top: 0, bottom: 0 } }
        },
        y: {
          type: 'linear', min: lim.y[0], max: lim.y[1], afterFit: fixW(68),
          afterBuildTicks: setTicks(tickRange(lim.y[0], lim.y[1], step)),
          grid: NO_GRID, border: { display: false },
          ticks: { autoSkip: false, padding: 3, font: { size: 20 }, callback: lab },
          title: { display: true, text: yTitle, font: { size: 21 }, padding: { top: 3, bottom: 0 } }
        }
      }
    },
    plugins: [
      framePlugin({ xMajor: major, xLen: [8, 5], yMajor: major, yLen: [8, 5] }),
      notesPlugin([{ x: 74, y: letterY, font: '32px ' + SERIF, parts: [[letter, '#111']] }])
    ]
  });
}
hodoChart('panelE', [dots(eCore, 5, '#000'), dots(eHalo, 1.4, '#111'), dots(eOut, 1.1, '#222')],
  { x: [-40, 40], y: [-35, 35], labelMax: 40 }, 5, 20, 'Eu f (mV/m)', 'Ev f (mV/m)', 20, 54, 'e', 195);
hodoChart('panelF', [dots(fCore, 4.5, '#000'), dots(fHalo, 1.4, '#111'), dots(fOut, 1.1, '#222')],
  { x: [-11.5, 11.5], y: [-11.5, 11.5], labelMax: 11 }, 1, 5, 'Eu 2f (mV/m)', 'Ev 2f (mV/m)', 12, 56, 'f', 192);
</script>
</body>
</html>
